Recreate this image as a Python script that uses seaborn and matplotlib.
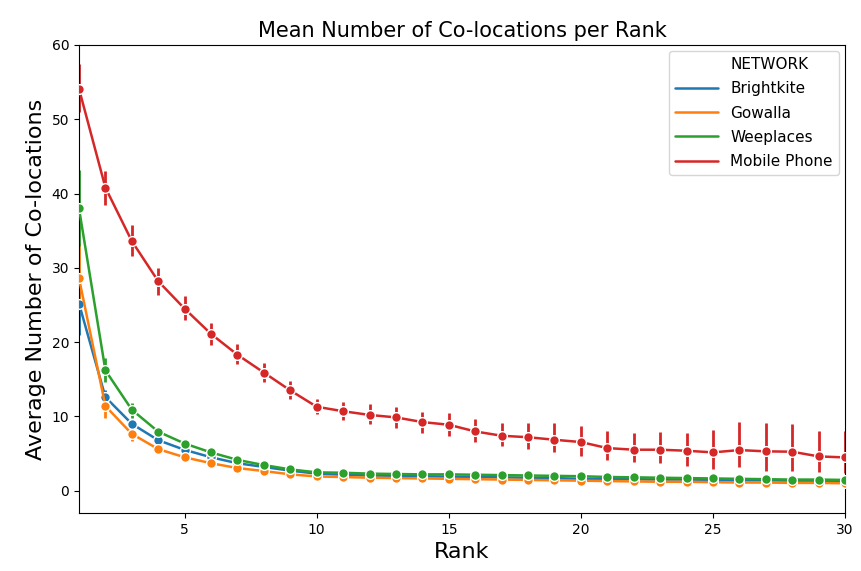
import numpy as np
import pandas as pd
import matplotlib
matplotlib.use("Agg")
import matplotlib.pyplot as plt
from matplotlib.lines import Line2D
import seaborn as sns

ranks = list(range(1, 31))
networks = ["Brightkite", "Gowalla", "Weeplaces", "Mobile Phone"]

brightkite = [25.2, 12.6, 9.0, 6.8, 5.5, 4.5, 3.7, 3.2, 2.7, 2.3, 2.15, 2.05, 2.0, 1.95, 1.9,
              1.85, 1.8, 1.75, 1.7, 1.6, 1.6, 1.55, 1.5, 1.5, 1.45, 1.4, 1.4, 1.35, 1.35, 1.3]
gowalla = [28.6, 11.4, 7.65, 5.6, 4.5, 3.7, 3.05, 2.65, 2.2, 1.92, 1.84, 1.75, 1.7, 1.65, 1.6,
           1.55, 1.5, 1.45, 1.4, 1.35, 1.3, 1.25, 1.2, 1.2, 1.15, 1.1, 1.1, 1.05, 1.05, 1.0]
weeplaces = [38.0, 16.2, 10.9, 7.95, 6.35, 5.15, 4.15, 3.45, 2.87, 2.47, 2.42, 2.3, 2.25, 2.2, 2.2,
             2.15, 2.1, 2.05, 2.0, 1.95, 1.85, 1.8, 1.75, 1.7, 1.65, 1.6, 1.55, 1.5, 1.5, 1.45]
mobile = [54.1, 40.8, 33.6, 28.2, 24.5, 21.1, 18.3, 15.9, 13.5, 11.3, 10.7, 10.2, 9.87, 9.24, 8.88,
          7.98, 7.4, 7.2, 6.86, 6.55, 5.74, 5.52, 5.52, 5.38, 5.16, 5.47, 5.3, 5.25, 4.62, 4.48]

brightkite_lo = [21.0, 11.8, 8.5, 6.4, 5.2, 4.3, 3.5, 3.0, 2.55, 2.15, 2.0, 1.9, 1.85, 1.8, 1.75,
                 1.7, 1.65, 1.6, 1.55, 1.45, 1.45, 1.4, 1.35, 1.35, 1.3, 1.25, 1.25, 1.2, 1.2, 1.15]
brightkite_hi = [29.0, 13.5, 9.5, 7.2, 5.8, 4.7, 3.9, 3.4, 2.85, 2.45, 2.3, 2.2, 2.15, 2.1, 2.05,
                 2.0, 1.95, 1.9, 1.85, 1.75, 1.75, 1.7, 1.65, 1.65, 1.6, 1.55, 1.55, 1.5, 1.5, 1.45]
gowalla_lo = [24.0, 9.8, 6.7, 5.1, 4.2, 3.45, 2.85, 2.45, 2.05, 1.8, 1.72, 1.63, 1.58, 1.53, 1.48,
              1.43, 1.38, 1.33, 1.28, 1.23, 1.18, 1.13, 1.08, 1.08, 1.03, 0.98, 0.98, 0.93, 0.93, 0.88]
gowalla_hi = [33.4, 13.0, 8.6, 6.1, 4.8, 3.95, 3.25, 2.85, 2.35, 2.04, 1.96, 1.87, 1.82, 1.77, 1.72,
              1.67, 1.62, 1.57, 1.52, 1.47, 1.42, 1.37, 1.32, 1.32, 1.27, 1.22, 1.22, 1.17, 1.17, 1.12]
weeplaces_lo = [33.0, 14.6, 9.8, 7.4, 5.95, 4.85, 3.9, 3.25, 2.7, 2.3, 2.25, 2.15, 2.1, 2.05, 2.05,
                2.0, 1.95, 1.9, 1.85, 1.8, 1.7, 1.65, 1.6, 1.55, 1.5, 1.45, 1.4, 1.35, 1.35, 1.3]
weeplaces_hi = [43.2, 17.8, 11.8, 8.5, 6.75, 5.45, 4.4, 3.65, 3.05, 2.65, 2.6, 2.45, 2.4, 2.35, 2.35,
                2.3, 2.25, 2.2, 2.15, 2.1, 2.0, 1.95, 1.9, 1.85, 1.8, 1.75, 1.7, 1.65, 1.65, 1.6]
mobile_lo = [51.0, 38.4, 31.6, 26.4, 23.0, 19.6, 17.0, 14.6, 12.3, 10.3, 9.5, 9.0, 8.5, 7.8, 7.3,
             6.5, 6.0, 5.65, 5.15, 4.7, 4.08, 3.81, 3.72, 3.27, 2.9, 3.19, 2.7, 2.7, 2.46, 2.4]
mobile_hi = [57.5, 43.0, 35.8, 30.0, 26.2, 22.6, 19.7, 17.2, 14.8, 12.4, 11.9, 11.7, 11.3, 10.6, 10.4,
             9.65, 9.1, 9.1, 9.1, 8.65, 7.98, 7.77, 7.9, 7.77, 8.2, 9.2, 9.1, 9.0, 8.1, 8.0]

means = [brightkite, gowalla, weeplaces, mobile]
lows = [brightkite_lo, gowalla_lo, weeplaces_lo, mobile_lo]
highs = [brightkite_hi, gowalla_hi, weeplaces_hi, mobile_hi]

rows = []
for net, m, lo, hi in zip(networks, means, lows, highs):
    for r, v, a, b in zip(ranks, m, lo, hi):
        rows.append({"Rank": r, "Mean": v, "Lo": a, "Hi": b, "NETWORK": net})
df = pd.DataFrame(rows)

sns.set_style("ticks")
plt.rcParams["font.family"] = ["DejaVu Sans"]
plt.rcParams["text.color"] = "black"
plt.rcParams["axes.labelcolor"] = "black"
plt.rcParams["xtick.color"] = "black"
plt.rcParams["ytick.color"] = "black"
plt.rcParams["axes.edgecolor"] = "black"
palette = sns.color_palette("tab10", 4)

fig = plt.figure(figsize=(8.62, 5.71), dpi=100)
ax = fig.add_axes([79 / 862, 1 - 513 / 571, (845 - 79) / 862, (513 - 45) / 571])

for i, net in enumerate(networks):
    sub = df[df["NETWORK"] == net]
    ax.vlines(sub["Rank"], sub["Lo"], sub["Hi"], color=palette[i], linewidth=2, zorder=2)

sns.lineplot(data=df, x="Rank", y="Mean", hue="NETWORK", hue_order=networks,
             palette=palette, marker="o", markersize=7, markeredgecolor="white",
             markeredgewidth=1, linewidth=1.8, ax=ax, legend=False, zorder=3)

ax.set_xlim(1, 30)
ax.set_ylim(-3, 60)
ax.set_xticks([5, 10, 15, 20, 25, 30])
ax.set_yticks([0, 10, 20, 30, 40, 50, 60])
ax.tick_params(labelsize=10, colors="black")
for s in ax.spines.values():
    s.set_visible(True)
    s.set_color("black")
ax.set_xlabel("Rank", fontsize=16, color="black")
ax.set_ylabel("Average Number of Co-locations", fontsize=16, color="black")
ax.set_title("Mean Number of Co-locations per Rank", fontsize=15, color="black")

handles = [Line2D([], [], color="none")] + [Line2D([], [], color=palette[i], linewidth=1.8) for i in range(4)]
labels = ["NETWORK"] + networks
ax.legend(handles, labels, loc="upper right", fontsize=11, frameon=True,
          handlelength=2.8, labelspacing=0.6, borderaxespad=0.4)

fig.savefig("out.png", dpi=100)
